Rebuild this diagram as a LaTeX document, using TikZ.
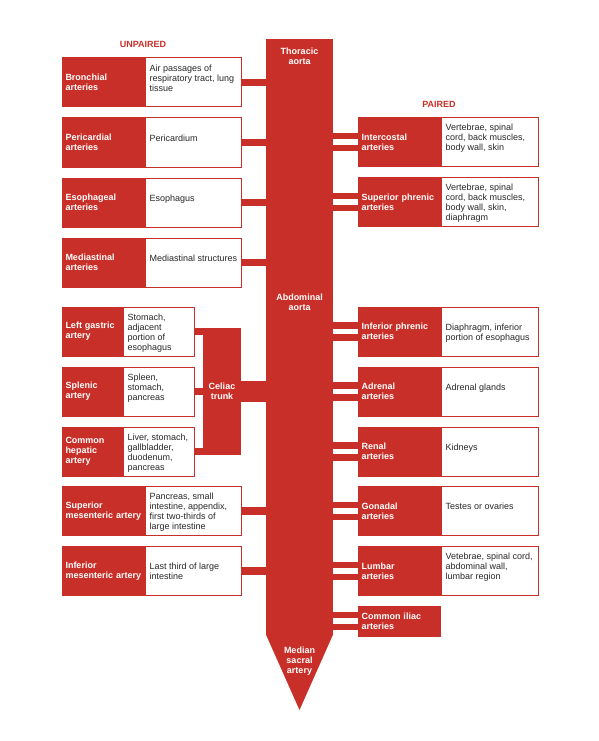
\documentclass[tikz,border=0pt]{standalone}
\usepackage{fontspec}
\setmainfont{Liberation Sans}
\usetikzlibrary{positioning}
\definecolor{aortared}{RGB}{200,47,40}
\definecolor{desctext}{RGB}{40,40,40}

\begin{document}
\begin{tikzpicture}
  [x=1pt, y=-1pt,
   artery/.style={rectangle, fill=aortared, draw=aortared, line width=1pt, text=white,
     font=\fontsize{9}{10}\selectfont\bfseries, align=left, text width=75pt,
     inner xsep=3.5pt, inner ysep=0pt, minimum height=49pt},
   organ/.style={rectangle, fill=white, draw=aortared, line width=1pt,
     minimum width=96pt, minimum height=49pt, inner sep=0pt},
   desc/.style={anchor=north west, inner sep=0pt, align=left, text=desctext,
     font=\fontsize{9}{10}\selectfont},
   head/.style={anchor=north, inner sep=0pt, text=aortared, font=\fontsize{9}{10}\selectfont\bfseries},
   inlabel/.style={anchor=north, inner sep=0pt, align=center, text=white,
     font=\fontsize{9}{10}\selectfont\bfseries},
   bar/.style={draw=aortared, line width=7.5pt},
   pairbar/.style={draw=aortared, line width=6.5pt}]

  \useasboundingbox (0,0) rectangle (598,741);

  % Aorta
  \node[rectangle, fill=aortared, minimum width=67pt, minimum height=596pt, inner sep=0pt] (aorta) at (299.5,337) {};
  \coordinate (tip) at (299.5,710);
  \fill[aortared] ([yshift=1pt]aorta.south west) -- ([yshift=1pt]aorta.south east) -- (tip) -- cycle;
  \node[inlabel] (thor) at ([yshift=-9pt]aorta.north) {Thoracic\\aorta};
  \node[inlabel] (abd) at (299.5,294) {Abdominal\\aorta};
  \node[inlabel] (sacral) at (299.5,646.5) {Median\\sacral\\artery};

  % Titulos
  \node[head] (unp) at (143,41.5) {UNPAIRED};
  \node[head] (pair) at (439,101) {PAIRED};

  % Ramas impares (aorta toracica)
  \node[artery] (br) at (103,82.5) {Bronchial\\arteries};
  \node[organ, right=0pt of br] (br-o) {};
  \node[desc] (br-t) at ([shift={(5,7)}]br-o.north west) {Air passages of\\respiratory tract, lung\\tissue};

  \node[artery] (pc) at (103,142.5) {Pericardial\\arteries};
  \node[organ, right=0pt of pc] (pc-o) {};
  \node[desc] (pc-t) at ([shift={(5,17)}]pc-o.north west) {Pericardium};

  \node[artery] (es) at (103,202.5) {Esophageal\\arteries};
  \node[organ, right=0pt of es] (es-o) {};
  \node[desc] (es-t) at ([shift={(5,17)}]es-o.north west) {Esophagus};

  \node[artery] (md) at (103,262.5) {Mediastinal\\arteries};
  \node[organ, right=0pt of md] (md-o) {};
  \node[desc] (md-t) at ([shift={(5,17)}]md-o.north west) {Mediastinal structures};

  % Tronco celiaco
  \node[artery, text width=53pt] (lg) at (92,331.5) {Left gastric\\artery};
  \node[organ, minimum width=71pt, right=0pt of lg] (lg-o) {};
  \node[desc] (lg-t) at ([shift={(5,7)}]lg-o.north west) {Stomach,\\adjacent\\portion of\\esophagus};

  \node[artery, text width=53pt] (spl) at (92,391.5) {Splenic\\artery};
  \node[organ, minimum width=71pt, right=0pt of spl] (spl-o) {};
  \node[desc] (spl-t) at ([shift={(5,7)}]spl-o.north west) {Spleen,\\stomach,\\pancreas};

  \node[artery, text width=53pt] (ch) at (92,451.5) {Common\\hepatic\\artery};
  \node[organ, minimum width=71pt, right=0pt of ch] (ch-o) {};
  \node[desc] (ch-t) at ([shift={(5,7)}]ch-o.north west) {Liver, stomach,\\gallbladder,\\duodenum,\\pancreas};

  \node[rectangle, fill=aortared, minimum width=37.5pt, minimum height=126.7pt, inner sep=0pt,
    align=center, text=white, font=\fontsize{9}{10}\selectfont\bfseries] (celiac) at (222,391.6) {Celiac\\trunk};

  % Ramas impares (aorta abdominal)
  \node[artery] (sm) at (103,511) {Superior\\\mbox{mesenteric artery}};
  \node[organ, right=0pt of sm] (sm-o) {};
  \node[desc] (sm-t) at ([shift={(5,7)}]sm-o.north west) {Pancreas, small\\intestine, appendix,\\first two-thirds of\\large intestine};

  \node[artery] (im) at (103,571) {Inferior\\\mbox{mesenteric artery}};
  \node[organ, right=0pt of im] (im-o) {};
  \node[desc] (im-t) at ([shift={(5,17)}]im-o.north west) {Last third of large\\intestine};

  % Ramas pares
  \node[artery] (ic) at (399,142) {Intercostal\\arteries};
  \node[organ, minimum width=97pt, right=0pt of ic] (ic-o) {};
  \node[desc] (ic-t) at ([shift={(5,7)}]ic-o.north west) {Vertebrae, spinal\\cord, back muscles,\\body wall, skin};

  \node[artery] (sp) at (399,202) {Superior phrenic\\arteries};
  \node[organ, minimum width=97pt, right=0pt of sp] (sp-o) {};
  \node[desc] (sp-t) at ([shift={(5,7)}]sp-o.north west) {Vertebrae, spinal\\cord, back muscles,\\body wall, skin,\\diaphragm};

  \node[artery] (ip) at (399,331.5) {Inferior phrenic\\arteries};
  \node[organ, minimum width=97pt, right=0pt of ip] (ip-o) {};
  \node[desc] (ip-t) at ([shift={(5,17)}]ip-o.north west) {Diaphragm, inferior\\portion of esophagus};

  \node[artery] (ad) at (399,391.5) {Adrenal\\arteries};
  \node[organ, minimum width=97pt, right=0pt of ad] (ad-o) {};
  \node[desc] (ad-t) at ([shift={(5,17)}]ad-o.north west) {Adrenal glands};

  \node[artery] (rn) at (399,451.5) {Renal\\arteries};
  \node[organ, minimum width=97pt, right=0pt of rn] (rn-o) {};
  \node[desc] (rn-t) at ([shift={(5,17)}]rn-o.north west) {Kidneys};

  \node[artery] (gn) at (399,511) {Gonadal\\arteries};
  \node[organ, minimum width=97pt, right=0pt of gn] (gn-o) {};
  \node[desc] (gn-t) at ([shift={(5,17)}]gn-o.north west) {Testes or ovaries};

  \node[artery] (lb) at (399,571) {Lumbar\\arteries};
  \node[organ, minimum width=97pt, right=0pt of lb] (lb-o) {};
  \node[desc] (lb-t) at ([shift={(5,7)}]lb-o.north west) {Vetebrae, spinal cord,\\abdominal wall,\\lumbar region};

  \node[artery, minimum height=30pt] (ci) at (399,621) {Common iliac\\arteries};

  % Conexiones impares
  \foreach \a in {br,pc,es,md,sm,im}
    \draw[bar] (\a-o.east) -- (\a-o.east -| aorta.west);
  \foreach \a in {lg,spl,ch}
    \draw[bar] (\a-o.east) -- (\a-o.east -| celiac.west);
  \draw[bar, line width=21pt] (celiac.east) -- (celiac.east -| aorta.west);

  % Conexiones pares (dobles)
  \foreach \a in {ic,sp,ip,ad,rn,gn,lb,ci} {
    \draw[pairbar] ([yshift=6.2pt]\a.west) -- ([yshift=6.2pt]\a.west -| aorta.east);
    \draw[pairbar] ([yshift=-6.2pt]\a.west) -- ([yshift=-6.2pt]\a.west -| aorta.east);
  }
\end{tikzpicture}
\end{document}
